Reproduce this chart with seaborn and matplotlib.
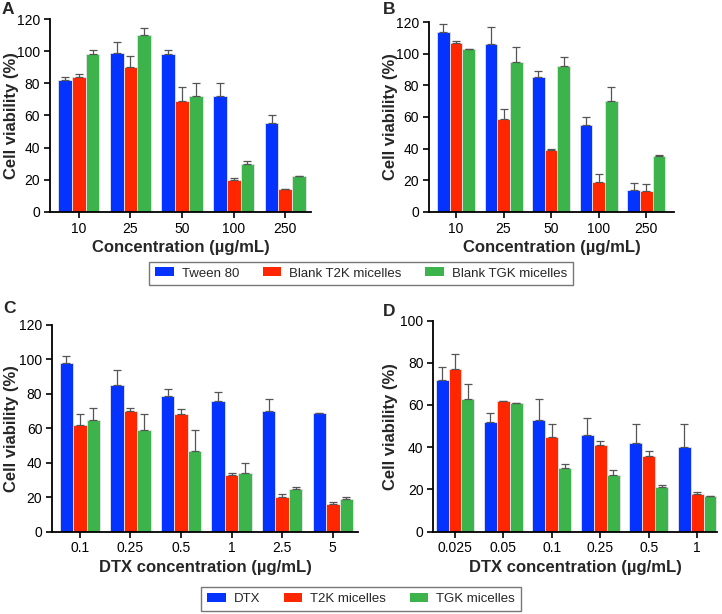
import matplotlib
matplotlib.use("Agg")
import matplotlib.pyplot as plt
import seaborn as sns
import pandas as pd
import numpy as np
from matplotlib.patches import Patch

sns.set_style("ticks")
plt.rcParams['font.family'] = ['Liberation Sans', 'DejaVu Sans']

# ---------------- data ----------------
conc_ab = ["10", "25", "50", "100", "250"]
series_ab = ["Tween 80", "Blank T2K micelles", "Blank TGK micelles"]

a_tween = [82, 99, 98, 72, 55]
a_t2k = [84, 90, 69, 20, 14]
a_tgk = [98, 110, 72, 30, 22]
a_tween_err = [2, 7, 3, 8, 5]
a_t2k_err = [2, 7, 8.5, 1, 0.3]
a_tgk_err = [3, 4.5, 8, 1.5, 0.4]

b_tween = [114, 106, 85, 55, 14]
b_t2k = [107, 59, 39, 19, 13]
b_tgk = [103, 95, 92, 70, 35]
b_tween_err = [5, 11, 4, 5, 4]
b_t2k_err = [1, 6, 1, 5, 4.5]
b_tgk_err = [0.3, 9, 6, 9, 1]

conc_c = ["0.1", "0.25", "0.5", "1", "2.5", "5"]
conc_d = ["0.025", "0.05", "0.1", "0.25", "0.5", "1"]
series_cd = ["DTX", "T2K micelles", "TGK micelles"]

c_dtx = [98, 85, 79, 76, 70, 69]
c_t2k = [62, 70, 68, 33, 20, 16]
c_tgk = [65, 59, 47, 34, 25, 19]
c_dtx_err = [4, 9, 4, 5, 7, 0]
c_t2k_err = [6, 2, 3, 1, 2, 1]
c_tgk_err = [7, 9, 12, 6, 1, 1]

d_dtx = [72, 52, 53, 46, 42, 40]
d_t2k = [77, 62, 45, 41, 36, 18]
d_tgk = [63, 61, 30, 27, 21, 17]
d_dtx_err = [6, 4, 10, 8, 9, 11]
d_t2k_err = [7, 0, 6, 2, 2, 1]
d_tgk_err = [7, 0, 2, 2, 1, 0]

colors = ["#0433FF", "#FF2600", "#3CB44B"]

W, H = 722, 614
fig = plt.figure(figsize=(W / 100, H / 100), dpi=100)

def panel(rect, cats, series, vals, errs, ymax, xlim, letter, xlabel, letter_xy, ylab_px):
    ax = fig.add_axes(rect)
    rows = []
    for s, v in zip(series, vals):
        for c, y in zip(cats, v):
            rows.append({"conc": c, "series": s, "val": y})
    df = pd.DataFrame(rows)
    sns.barplot(data=df, x="conc", y="val", hue="series", order=cats,
                hue_order=series, palette=colors, errorbar=None, width=0.8,
                ax=ax, legend=False, edgecolor="#e6e6e6", linewidth=0.6,
                saturation=1)
    for cont, e in zip(ax.containers, errs):
        xs = [p.get_x() + p.get_width() / 2 for p in cont.patches]
        ys = [p.get_height() for p in cont.patches]
        ax.errorbar(xs, ys, yerr=[np.zeros(len(e)), e], fmt="none",
                    ecolor="#555555", elinewidth=0.9, capsize=3, capthick=0.9)
    ax.set_ylim(0, ymax)
    ax.set_xlim(*xlim)
    ax.set_yticks(np.arange(0, ymax + 1, 20))
    ax.set_ylabel("Cell viability (%)", fontsize=12, fontweight="bold")
    ax.set_xlabel(xlabel, fontsize=12, fontweight="bold", labelpad=3)
    ax_left_px = rect[0] * W
    ax_w_px = rect[2] * W
    ax.yaxis.set_label_coords((ylab_px - ax_left_px) / ax_w_px, 0.5)
    ax.tick_params(axis="both", labelsize=10, width=1.2, length=4, direction="out",
                   colors="black", pad=3)
    for sp in ["left", "bottom"]:
        ax.spines[sp].set_linewidth(1.3)
        ax.spines[sp].set_color("black")
    sns.despine(ax=ax)
    fig.text(letter_xy[0], letter_xy[1], letter, fontsize=12.5, fontweight="bold",
             ha="left", va="top")
    return ax

panel([0.069, 0.655, 0.362, 0.314], conc_ab, series_ab,
      [a_tween, a_t2k, a_tgk], [a_tween_err, a_t2k_err, a_tgk_err],
      120, (-0.56, 4.5), "A", "Concentration (µg/mL)", (0.002, 0.997), 19)
panel([0.594, 0.655, 0.340, 0.309], conc_ab, series_ab,
      [b_tween, b_t2k, b_tgk], [b_tween_err, b_t2k_err, b_tgk_err],
      120, (-0.57, 4.59), "B", "Concentration (µg/mL)", (0.53, 0.997), 398)
panel([0.072, 0.134, 0.424, 0.337], conc_c, series_cd,
      [c_dtx, c_t2k, c_tgk], [c_dtx_err, c_t2k_err, c_tgk_err],
      120, (-0.55, 5.5), "C", "DTX concentration (µg/mL)", (0.004, 0.51), 19)
panel([0.600, 0.134, 0.393, 0.344], conc_d, series_cd,
      [d_dtx, d_t2k, d_tgk], [d_dtx_err, d_t2k_err, d_tgk_err],
      100, (-0.45, 5.41), "D", "DTX concentration (µg/mL)", (0.53, 0.505), 398)

def legend(labels, y):
    handles = [Patch(facecolor=c, edgecolor="none", label=l) for c, l in zip(colors, labels)]
    leg = fig.legend(handles=handles, loc="center", bbox_to_anchor=(0.5, y), ncol=3,
                     fontsize=9.5, frameon=True, fancybox=False, edgecolor="#555555",
                     handlelength=1.4, handleheight=0.65, columnspacing=1.8,
                     handletextpad=0.6, borderpad=0.45, borderaxespad=0)
    leg.get_frame().set_linewidth(1.0)

legend(series_ab, 1 - 273.5 / 614)
legend(series_cd, 1 - 599 / 614)

fig.savefig("out.png", dpi=100)
